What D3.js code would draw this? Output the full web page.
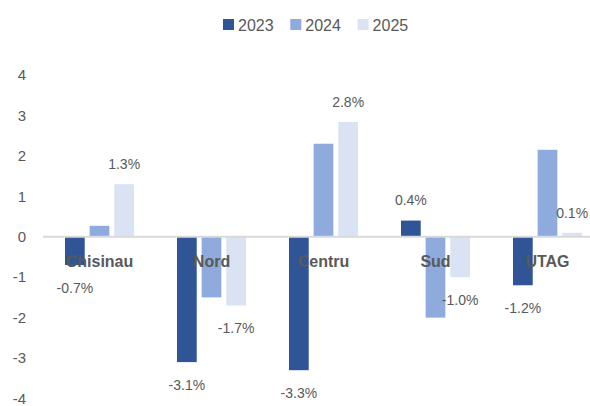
<html>
<head>
<script src="https://d3js.org/d3.v7.min.js"></script>
<style>
  body { margin: 0; background: #fff; }
  text { font-family: "Liberation Sans", Arial, sans-serif; fill: #595959; }
</style>
</head>
<body>
<svg width="590" height="406"></svg>
<script>
var regions = ["Chisinau", "Nord", "Centru", "Sud", "UTAG"];
var years = ["2023", "2024", "2025"];
var v2023 = [-0.7, -3.1, -3.3, 0.4, -1.2];
var v2024 = [0.27, -1.5, 2.3, -2.0, 2.15];
var v2025 = [1.3, -1.7, 2.84, -1.0, 0.1];
var yTicks = [-4, -3, -2, -1, 0, 1, 2, 3, 4];
var labelled = ["2023", "2025"];

var colors = { "2023": "#2F5597", "2024": "#8FAADC", "2025": "#DAE3F3" };
var seriesVals = { "2023": v2023, "2024": v2024, "2025": v2025 };

var svg = d3.select("svg");

var x0 = d3.scaleBand().domain(regions).range([43.5, 603.5]);
var groupW = 69;
var x1 = d3.scaleBand().domain(years)
    .range([x0.bandwidth() / 2 - groupW / 2, x0.bandwidth() / 2 + groupW / 2])
    .paddingInner(0.2);
var y = d3.scaleLinear().domain([-4, 4]).range([398.5, 75]);

// y tick labels
svg.append("g")
    .selectAll("text")
    .data(yTicks)
    .enter().append("text")
    .attr("x", 26)
    .attr("y", function(d) { return y(d); })
    .attr("dy", "0.35em")
    .attr("text-anchor", "end")
    .style("font-size", "15px")
    .text(function(d) { return d; });

// bars
var groups = svg.append("g")
    .selectAll("g")
    .data(regions)
    .enter().append("g")
    .attr("transform", function(d) { return "translate(" + x0(d) + ",0)"; });

groups.selectAll("rect")
    .data(function(d, i) { return years.map(function(yr) { return { yr: yr, v: seriesVals[yr][i] }; }); })
    .enter().append("rect")
    .attr("x", function(d) { return x1(d.yr); })
    .attr("width", x1.bandwidth())
    .attr("y", function(d) { return y(Math.max(0, d.v)); })
    .attr("height", function(d) { return Math.abs(y(d.v) - y(0)); })
    .attr("fill", function(d) { return colors[d.yr]; });

// zero line
svg.append("line")
    .attr("x1", 43).attr("x2", 590)
    .attr("y1", y(0)).attr("y2", y(0))
    .attr("stroke", "#D9D9D9")
    .attr("stroke-width", 2);

// category labels
svg.append("g")
    .selectAll("text")
    .data(regions)
    .enter().append("text")
    .attr("x", function(d) { return x0(d) + x0.bandwidth() / 2; })
    .attr("y", 261)
    .attr("dy", "0.35em")
    .attr("text-anchor", "middle")
    .style("font-size", "16px")
    .style("font-weight", "bold")
    .text(function(d) { return d; });

// data labels for 2023 and 2025
groups.selectAll("text.val")
    .data(function(d, i) {
        return labelled.map(function(yr) { return { yr: yr, v: seriesVals[yr][i] }; });
    })
    .enter().append("text")
    .attr("class", "val")
    .attr("x", function(d) { return x1(d.yr) + x1.bandwidth() / 2; })
    .attr("y", function(d) { return d.v >= 0 ? y(d.v) - 20 : y(d.v) + 23; })
    .attr("dy", "0.35em")
    .attr("text-anchor", "middle")
    .style("font-size", "14px")
    .text(function(d) { return d.v.toFixed(1) + "%"; });

// legend
var legend = svg.append("g")
    .selectAll("g")
    .data(years)
    .enter().append("g")
    .attr("transform", function(d, i) { return "translate(" + (223 + i * 67.3) + ",19)"; });

legend.append("rect")
    .attr("width", 11).attr("height", 11)
    .attr("fill", function(d) { return colors[d]; });

legend.append("text")
    .attr("x", 15)
    .attr("y", 6)
    .attr("dy", "0.35em")
    .style("font-size", "16px")
    .text(function(d) { return d; });
</script>
</body>
</html>
